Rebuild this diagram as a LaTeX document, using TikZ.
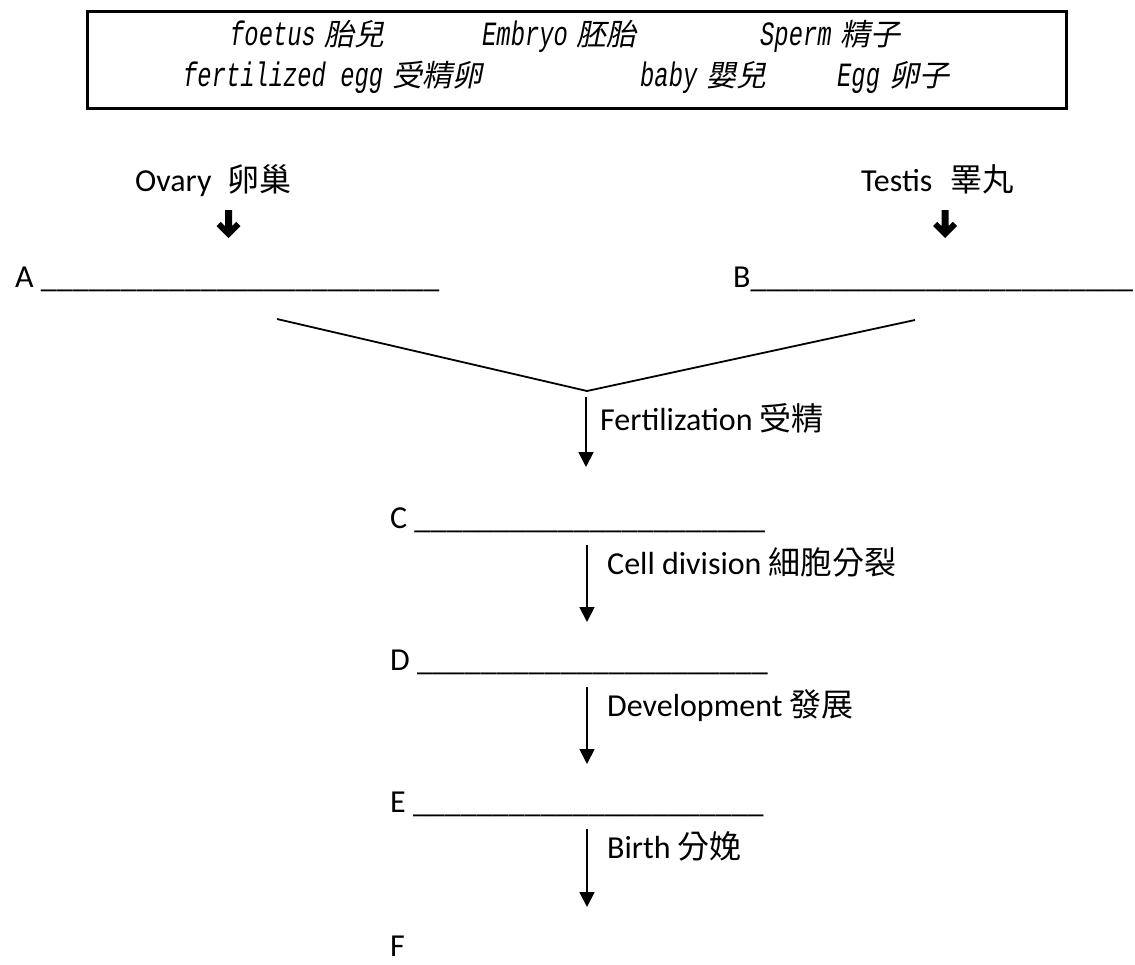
\documentclass[tikz,border=0pt]{standalone}
\usepackage{fontspec}
\setmainfont{Carlito}
\newfontfamily\cjkfont{Noto Sans CJK TC}
\newfontfamily\boxlatin[FakeStretch=0.7]{Liberation Mono}
\newfontfamily\boxcjk[FakeSlant=0.2]{Noto Sans CJK TC}
\usetikzlibrary{arrows.meta}
\newcommand\zhtext[1]{{\cjkfont\fontsize{32}{36}\selectfont #1}}
\newcommand\boxitem[2]{{\boxlatin\itshape\fontsize{34}{38}\selectfont #1}\hspace{9pt}{\boxcjk\fontsize{30}{34}\selectfont #2}}
\newcommand\blanks[1]{\foreach \i in {1,...,#1}{\_}}
\tikzset{
  lbl/.style={inner sep=0pt, anchor=base west, font=\fontsize{32}{36}\selectfont},
  boxtxt/.style={inner sep=0pt, anchor=base west},
  flow/.style={line width=1.8pt, -{Triangle[width=15pt,length=15pt]}},
  vline/.style={line width=1.8pt},
  legendbox/.style={draw, line width=3pt, inner sep=0pt},
  boldarrow/.pic={\fill (-3.5,0) -- (3.5,0) -- (3.5,16) -- (7.8,11.8) -- (12,16) -- (0,28) -- (-12,16) -- (-7.8,11.8) -- (-3.5,16) -- cycle;}
}
\begin{document}
\begin{tikzpicture}[x=1pt,y=-1pt]
\useasboundingbox (0,0) rectangle (1135,964);
% legend box
\node[legendbox, minimum width=979pt, minimum height=97pt] (legend) at (576.5,59.5) {};
\node[boxtxt] (foetus) at (230,45) {\boxitem{foetus}{胎兒}};
\node[boxtxt] (embryo) at (482,45) {\boxitem{Embryo}{胚胎}};
\node[boxtxt] (sperm) at (760,45) {\boxitem{Sperm}{精子}};
\node[boxtxt] (fegg) at (183,86) {\boxitem{fertilized egg}{受精卵}};
\node[boxtxt] (baby) at (640,86) {\boxitem{baby}{嬰兒}};
\node[boxtxt] (egg) at (837,86) {\boxitem{Egg}{卵子}};
% organs
\node[lbl] (ovary) at (135,191) {Ovary\hspace{16pt}\zhtext{卵巢}};
\node[lbl] (testis) at (861,191) {Testis\hspace{18pt}\zhtext{睪丸}};
\pic at (228.5,210) {boldarrow};
\pic at (945,210) {boldarrow};
% A and B
\node[lbl] (A) at (15,287) {A \blanks{25}};
\node[lbl] (B) at (733,287) {B\blanks{24}};
% merging lines
\coordinate (vl) at (277,319);
\coordinate (v) at (587,391);
\coordinate (vr) at (915,320);
\draw[vline] (vl) -- (v) -- (vr);
% fertilization
\coordinate (f1) at (586,397);
\coordinate (f2) at (586,467);
\draw[flow] (f1) -- (f2);
\node[lbl] (fert) at (600,430) {Fertilization \zhtext{受精}};
% C
\node[lbl] (C) at (390,528) {C \blanks{22}};
\coordinate (c1) at (587,545);
\coordinate (c2) at (587,622);
\draw[flow] (c1) -- (c2);
\node[lbl] (cell) at (607,574) {Cell division \zhtext{細胞分裂}};
% D
\node[lbl] (D) at (390,670) {D \blanks{22}};
\coordinate (d1) at (587,687);
\coordinate (d2) at (587,764);
\draw[flow] (d1) -- (d2);
\node[lbl] (dev) at (607,716) {Development \zhtext{發展}};
% E
\node[lbl] (E) at (390,812) {E \blanks{22}};
\coordinate (e1) at (587,829);
\coordinate (e2) at (587,907);
\draw[flow] (e1) -- (e2);
\node[lbl] (birth) at (607,858) {Birth \zhtext{分娩}};
% F
\node[lbl] (F) at (390,956) {F};
\end{tikzpicture}
\end{document}
